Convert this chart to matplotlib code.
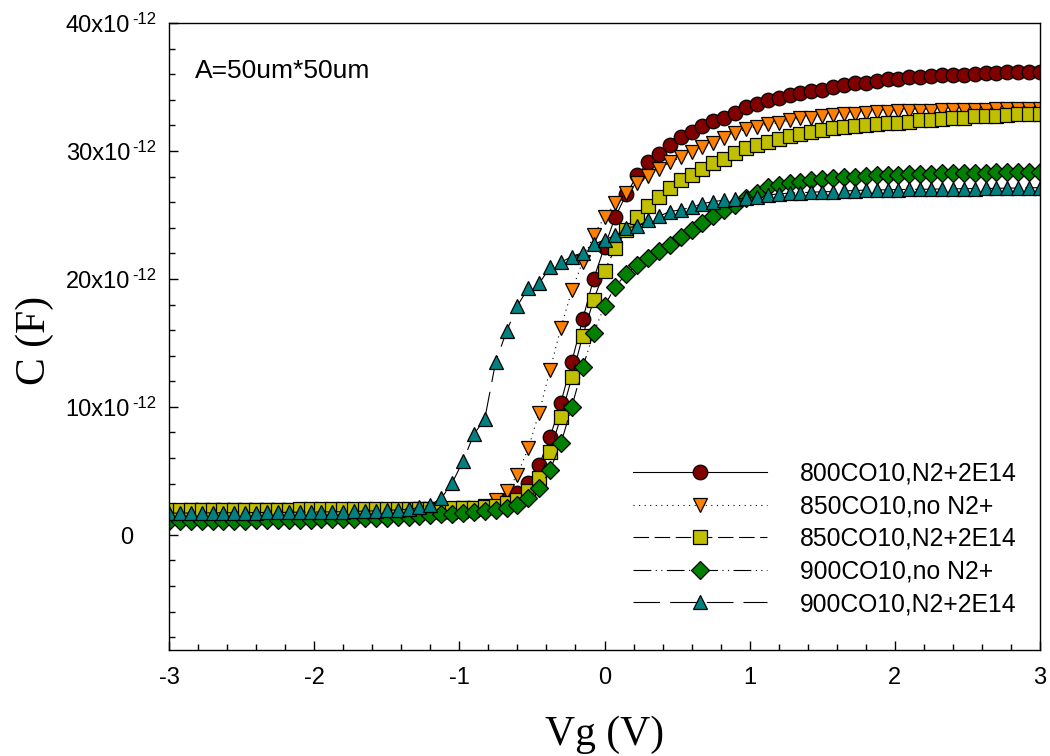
import numpy as np
import matplotlib
matplotlib.use("Agg")
import matplotlib.pyplot as plt
from matplotlib.ticker import MultipleLocator, FuncFormatter, NullFormatter

plt.rcParams['font.family'] = ['Liberation Sans', 'DejaVu Sans']
plt.rcParams['axes.unicode_minus'] = False

# gate sweep, -3 V .. 3 V in 0.075 V steps
vg = np.linspace(-3, 3, 81)

# capacitance in pF
c800_n2 = [1.50, 1.50, 1.51, 1.51, 1.52, 1.52, 1.52, 1.53, 1.53, 1.54, 1.54, 1.55, 1.55, 1.56, 1.56,
           1.57, 1.57, 1.58, 1.59, 1.60, 1.61, 1.62, 1.63, 1.65, 1.67, 1.70, 1.74, 1.80, 1.90,
           2.05, 2.35, 2.75, 3.26, 4.04, 5.47, 7.63, 10.34, 13.54, 16.85, 20.0, 22.5, 24.87, 26.6,
           28.1, 29.1, 29.8, 30.47, 31.07, 31.5, 31.95, 32.35, 32.6, 33.0, 33.4, 33.67, 34.0, 34.1,
           34.4, 34.55, 34.7, 34.8, 35.0, 35.16, 35.3, 35.35, 35.45, 35.6, 35.65, 35.75, 35.8, 35.86,
           35.9, 35.94, 35.96, 36.0, 36.07, 36.1, 36.15, 36.17, 36.2, 36.2]
c850_no = [1.90, 1.90, 1.91, 1.91, 1.91, 1.92, 1.92, 1.92, 1.93, 1.93, 1.93, 1.94, 1.94, 1.94, 1.95,
           1.95, 1.95, 1.96, 1.96, 1.97, 1.97, 1.98, 1.98, 1.99, 2.00, 2.01, 2.03, 2.06, 2.12,
           2.27, 2.73, 3.39, 4.69, 6.77, 9.55, 12.9, 16.2, 19.1, 21.35, 23.45, 24.8, 25.9, 26.74,
           27.5, 28.05, 28.57, 29.1, 29.5, 29.95, 30.3, 30.65, 31.05, 31.4, 31.7, 31.9, 32.1, 32.2,
           32.4, 32.55, 32.6, 32.7, 32.8, 32.85, 32.9, 33.0, 33.05, 33.07, 33.1, 33.12, 33.14, 33.16,
           33.18, 33.2, 33.21, 33.22, 33.24, 33.25, 33.27, 33.28, 33.3, 33.3]
c850_n2 = [1.95, 1.95, 1.95, 1.96, 1.96, 1.96, 1.97, 1.97, 1.97, 1.98, 1.98, 1.98, 1.99, 1.99, 1.99,
           2.00, 2.00, 2.00, 2.01, 2.01, 2.02, 2.02, 2.03, 2.03, 2.04, 2.05, 2.06, 2.08, 2.10, 2.15,
           2.25, 2.45, 2.70, 3.39, 4.43, 6.5, 9.24, 12.3, 15.55, 18.36, 20.65, 22.4, 23.8, 24.87,
           25.7, 26.43, 27.1, 27.7, 28.1, 28.57, 29.05, 29.4, 29.85, 30.2, 30.47, 30.7, 30.9, 31.17,
           31.33, 31.5, 31.6, 31.77, 31.9, 31.95, 32.0, 32.1, 32.2, 32.2, 32.3, 32.4, 32.4, 32.5,
           32.6, 32.6, 32.7, 32.7, 32.75, 32.8, 32.85, 32.85, 32.9]
c900_no = [1.05, 1.06, 1.07, 1.08, 1.09, 1.10, 1.11, 1.12, 1.13, 1.14, 1.15, 1.16, 1.18, 1.19, 1.21,
           1.22, 1.24, 1.26, 1.28, 1.30, 1.33, 1.36, 1.40, 1.45, 1.52, 1.60, 1.66, 1.72, 1.78, 1.86,
           1.95, 2.08, 2.34, 2.86, 3.65, 5.08, 7.16, 10.02, 13.1, 15.76, 17.9, 19.4, 20.4, 21.1,
           21.6, 22.2, 22.66, 23.26, 23.8, 24.35, 24.95, 25.4, 25.8, 26.3, 26.74, 27.16, 27.34, 27.5,
           27.6, 27.73, 27.8, 27.86, 27.95, 28.0, 28.05, 28.1, 28.12, 28.15, 28.17, 28.2, 28.22,
           28.24, 28.26, 28.28, 28.3, 28.31, 28.32, 28.34, 28.35, 28.37, 28.38]
c900_n2 = [1.70, 1.70, 1.71, 1.71, 1.72, 1.72, 1.73, 1.73, 1.74, 1.75, 1.75, 1.76, 1.77, 1.78, 1.79,
           1.80, 1.81, 1.83, 1.85, 1.88, 1.91, 1.95, 2.00, 2.15, 2.30, 2.85, 4.04, 5.75, 7.85, 9.05,
           13.5, 15.9, 17.9, 19.3, 19.65, 20.9, 21.3, 21.75, 22.05, 22.7, 23.05, 23.4, 24.0, 24.1,
           24.6, 24.9, 25.26, 25.4, 25.6, 25.88, 26.05, 26.15, 26.25, 26.3, 26.4, 26.56, 26.64, 26.7,
           26.74, 26.77, 26.82, 26.82, 26.88, 26.9, 26.95, 26.95, 26.97, 26.98, 27.0, 27.0, 27.02,
           27.03, 27.04, 27.05, 27.06, 27.07, 27.08, 27.1, 27.1, 27.12, 27.13]

labels = ['800CO10,N2+2E14', '850CO10,no N2+', '850CO10,N2+2E14',
          '900CO10,no N2+', '900CO10,N2+2E14']
series = [c800_n2, c850_no, c850_n2, c900_no, c900_n2]
colors = ['#800000', '#FF8000', '#C0C000', '#008000', '#008080']
markers = ['o', 'v', 's', 'D', '^']
msizes = [10.5, 10.5, 9.5, 9.0, 10.5]
styles = ['-', (0, (1, 4)), (0, (14, 5)), (0, (16, 4, 1, 4, 1, 4)), (0, (24, 9))]

# y tick values in pF
yticks = [0, 10, 20, 30, 40]

fig = plt.figure(figsize=(10.5, 7.56), dpi=100)
ax = fig.add_axes([169 / 1050, 1 - 650 / 756, 871 / 1050, 627 / 756])

for c, lab, col, m, ms, ls in zip(series, labels, colors, markers, msizes, styles):
    ax.plot(vg, np.array(c) * 1e-12, color='black', linestyle=ls, linewidth=0.8,
            marker=m, markersize=ms, markerfacecolor=col, markeredgecolor='black',
            markeredgewidth=0.9, label=lab)

ax.set_xlim(-3, 3)
ax.set_ylim(-9e-12, 40e-12)
ax.xaxis.set_major_locator(MultipleLocator(1))
ax.xaxis.set_minor_locator(MultipleLocator(0.2))
ax.set_yticks([v * 1e-12 for v in yticks])
ax.yaxis.set_minor_locator(MultipleLocator(2e-12))
ax.yaxis.set_major_formatter(NullFormatter())
ax.xaxis.set_major_formatter(FuncFormatter(lambda v, p: '%d' % round(v)))

ax.tick_params(which='both', direction='in', top=False, right=False, width=1)
ax.tick_params(axis='x', labelsize=17, pad=12)
ax.tick_params(which='major', length=6.5)
ax.tick_params(which='minor', length=4.3)
for s in ax.spines.values():
    s.set_linewidth(1.0)

# Origin-style "NNx10^-12" labels with a small, slightly raised exponent
ytr = ax.get_yaxis_transform()
for v in yticks:
    if v == 0:
        ax.annotate('0', xy=(0, 0), xycoords=ytr, xytext=(-26, -6.5),
                    textcoords='offset points', ha='right', va='baseline', fontsize=17)
        continue
    ax.annotate('%dx10' % v, xy=(0, v * 1e-12), xycoords=ytr, xytext=(-28, -6.5),
                textcoords='offset points', ha='right', va='baseline', fontsize=17)
    ax.annotate('-12', xy=(0, v * 1e-12), xycoords=ytr, xytext=(-26.8, -0.7),
                textcoords='offset points', ha='left', va='baseline', fontsize=12)

ax.set_xlabel('Vg (V)', family='Liberation Serif', fontsize=30)
ax.set_ylabel('C (F)', family='Liberation Serif', fontsize=30)
ax.xaxis.set_label_coords(0.5006, -0.104)
ax.yaxis.set_label_coords(-0.132, 0.494)

ax.text(0.03, 0.923, 'A=50um*50um', transform=ax.transAxes, fontsize=19, va='center', ha='left')

ax.legend(loc='upper left', bbox_to_anchor=(0.533, 0.300), frameon=False, fontsize=17.8,
          handlelength=5.4, handletextpad=1.35, labelspacing=0.345, borderpad=0,
          borderaxespad=0)

fig.savefig('out.png', dpi=100)
